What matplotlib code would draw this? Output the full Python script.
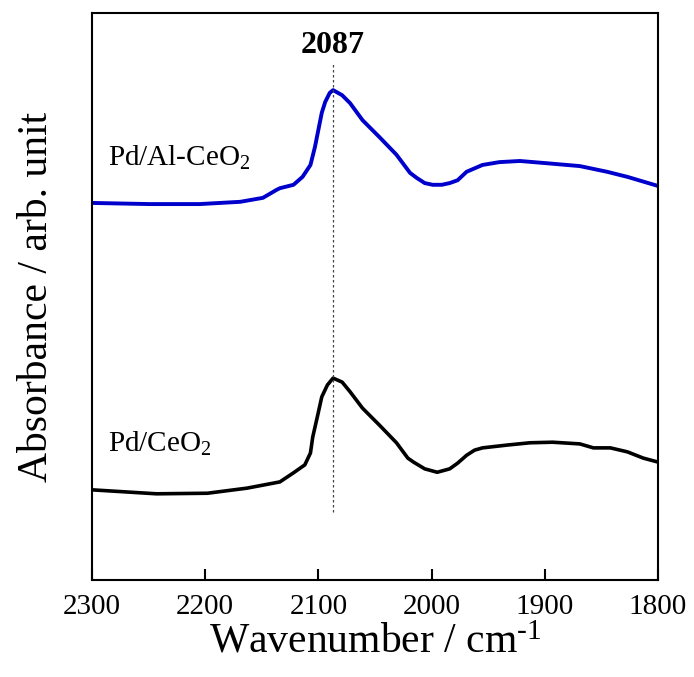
import matplotlib
matplotlib.use("Agg")
import matplotlib.pyplot as plt

plt.rcParams["font.family"] = ["Liberation Serif", "DejaVu Serif"]
plt.rcParams["mathtext.fontset"] = "custom"
plt.rcParams["mathtext.rm"] = "Liberation Serif"
plt.rcParams["mathtext.it"] = "Liberation Serif:italic"
plt.rcParams["mathtext.bf"] = "Liberation Serif:bold"

# DRIFT spectra of CO adsorbed on the two catalysts (arbitrary absorbance units)
wn_al = [2300, 2249, 2205, 2169, 2149, 2137, 2134, 2122, 2114, 2107, 2103, 2100,
         2097, 2094, 2090, 2087, 2079, 2072, 2061, 2046, 2031, 2019, 2013, 2006,
         1999, 1991, 1984, 1977, 1969, 1962, 1955, 1940, 1922, 1898, 1869, 1845,
         1827, 1800]
abs_al = [0.665, 0.663, 0.663, 0.667, 0.674, 0.688, 0.691, 0.697, 0.711, 0.732,
          0.764, 0.794, 0.824, 0.843, 0.859, 0.864, 0.855, 0.841, 0.811, 0.781,
          0.750, 0.718, 0.709, 0.700, 0.697, 0.697, 0.700, 0.705, 0.720, 0.726,
          0.732, 0.737, 0.739, 0.735, 0.730, 0.720, 0.711, 0.695]

wn_ce = [2300, 2243, 2198, 2163, 2134, 2122, 2112, 2107, 2105, 2101, 2097, 2092,
         2087, 2079, 2072, 2061, 2046, 2031, 2021, 2016, 2006, 1995, 1984, 1977,
         1969, 1962, 1955, 1933, 1913, 1893, 1869, 1857, 1842, 1827, 1813, 1800]
abs_ce = [0.159, 0.152, 0.153, 0.162, 0.173, 0.189, 0.203, 0.224, 0.252, 0.287,
          0.323, 0.344, 0.356, 0.349, 0.332, 0.303, 0.273, 0.242, 0.215, 0.208,
          0.196, 0.190, 0.196, 0.206, 0.220, 0.229, 0.233, 0.238, 0.242, 0.243,
          0.240, 0.233, 0.233, 0.226, 0.215, 0.208]

peak_wn = 2087
xticks = [2300, 2200, 2100, 2000, 1900, 1800]

fig = plt.figure(figsize=(6.94, 6.77), dpi=100)
ax = fig.add_axes([0.1326, 0.1433, 0.8154, 0.8375])

ax.plot(wn_al, abs_al, color="#0000CC", lw=2.8, solid_joinstyle="round")
ax.plot(wn_ce, abs_ce, color="black", lw=2.6, solid_joinstyle="round")
ax.vlines(peak_wn, 0.120, 0.912, colors="#444444", linestyles=(0, (2, 2)), lw=0.9)

ax.text(peak_wn, 0.942, str(peak_wn), ha="center", va="center",
        fontsize=23, fontweight="bold")
ax.text(2286, 0.745, "Pd/Al-CeO$_2$", ha="left", va="center", fontsize=21)
ax.text(2286, 0.240, "Pd/CeO$_2$", ha="left", va="center", fontsize=21)

ax.set_xlim(2300, 1800)
ax.set_ylim(0, 1)
ax.set_xticks(xticks)
ax.set_xticklabels([str(t) for t in xticks])
ax.set_yticks([])
ax.tick_params(axis="x", direction="in", length=8, width=1.5, labelsize=21, pad=10)
for s in ax.spines.values():
    s.set_linewidth(1.5)

ax.set_xlabel(r"Wavenumber / cm$^{\text{-1}}$", fontsize=30, labelpad=2)
ax.set_ylabel("Absorbance / arb. unit", fontsize=30, labelpad=26)

fig.savefig("out.png", dpi=100)
